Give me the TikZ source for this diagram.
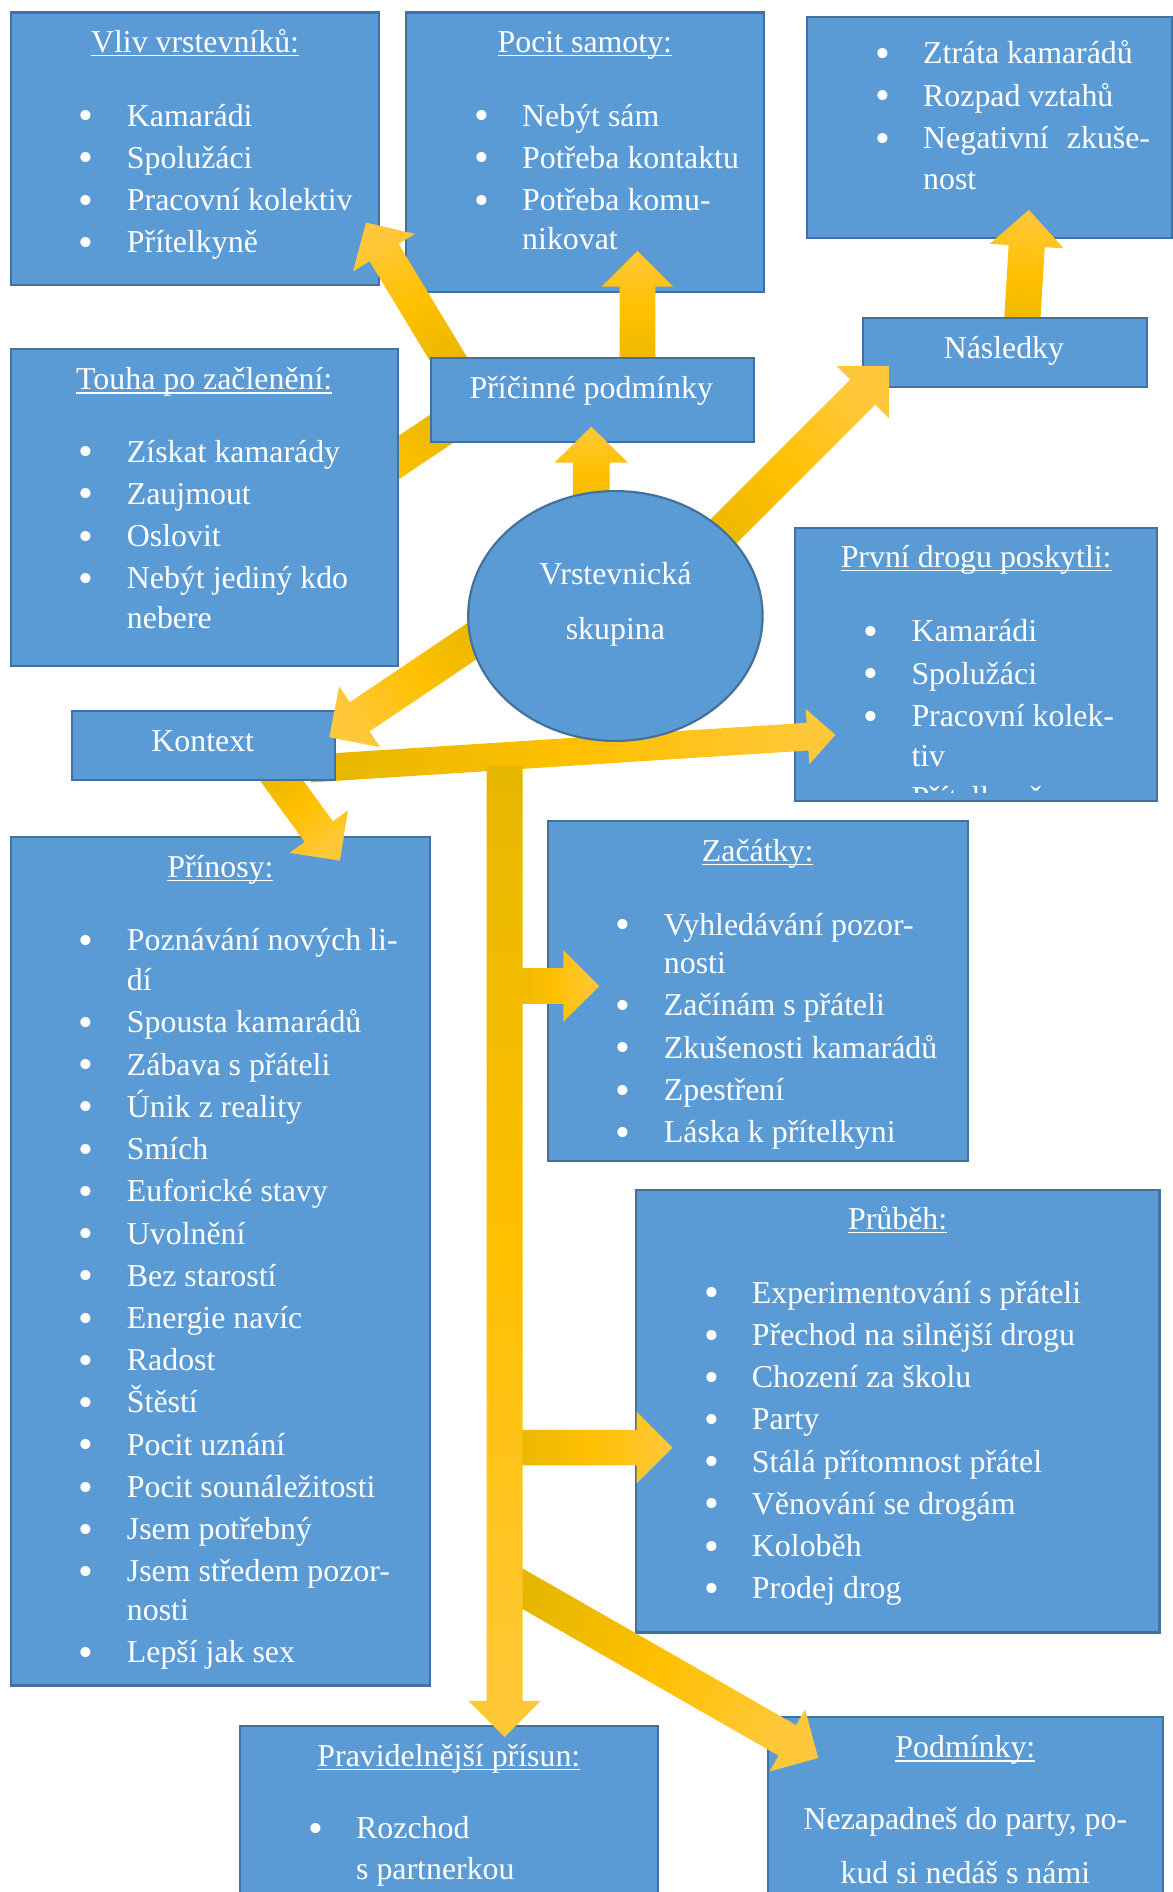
\documentclass[tikz,border=0pt]{standalone}
\usepackage{fontspec}
\setmainfont{Liberation Serif}
\usetikzlibrary{calc,shapes.geometric}

\definecolor{boxblue}{HTML}{5B9BD5}
\definecolor{boxline}{HTML}{41719C}
\definecolor{golddark}{HTML}{E6B700}
\definecolor{goldmid}{HTML}{FFC000}
\definecolor{goldlight}{HTML}{FFC83A}

\tikzset{
  infobox/.style={draw=boxline, fill=boxblue, line width=1.8pt, inner sep=0pt, anchor=north west},
  grpshape/.style={ellipse, draw=boxline, fill=boxblue, line width=1.8pt, minimum width=244, minimum height=207},
  boxtitle/.style={anchor=base, inner sep=0pt},
  boxlist/.style={anchor=base west, inner sep=0pt},
  goldfill/.style={top color=goldlight, bottom color=golddark, middle color=goldmid}
}

% underlined heading, bullet item
\newcommand\uln[1]{\setbox0\hbox{#1}\rlap{\rule[-3.2pt]{\wd0}{1.3pt}}\box0}
\newcommand\itm{\llap{\raisebox{-3pt}{\fontsize{35}{35}\selectfont\textbullet}\hspace{27.5pt}}}

% block arrow: tail, tip, half shaft, half head, head length
\newcommand\fatarrow[5]{%
  \coordinate (fa-neck) at ($(#2)!#5!(#1)$);
  \pgfmathanglebetweenpoints{\pgfpointanchor{#1}{center}}{\pgfpointanchor{#2}{center}}%
  \pgfmathsetmacro\faang{\pgfmathresult-90}%
  \shade[goldfill, shading angle=\faang]
    ($(#1)!#3!90:(#2)$) -- ($(fa-neck)!#3!-90:(#1)$) -- ($(fa-neck)!#4!-90:(#1)$) -- (#2)
    -- ($(fa-neck)!#4!90:(#1)$) -- ($(fa-neck)!#3!90:(#1)$) -- ($(#1)!#3!-90:(#2)$) -- cycle;
}

\begin{document}
\begin{tikzpicture}[x=1pt, y=1pt, font=\fontsize{26.4}{35}\selectfont, text=white]
\useasboundingbox (0,0) rectangle (972,-1568);
\clip (0,0) rectangle (972,-1568);

% outer boxes
\node[infobox, minimum width=305.5, minimum height=226] (vliv) at (8,-9.5) {};
\node[boxtitle] at ([yshift=-34]vliv.north) {\uln{Vliv vrstevníků:}};
\node[boxlist] at ([shift={(97,-95)}]vliv.north west) {\begin{tabular}[t]{@{}l@{}}
  \itm Kamarádi\\ \itm Spolužáci\\ \itm Pracovní kolektiv\\ \itm Přítelkyně
\end{tabular}};

\node[infobox, minimum width=296.4, minimum height=231.6] (pocit) at (335.6,-9.5) {};
\node[boxtitle] at ([yshift=-34]pocit.north) {\uln{Pocit samoty:}};
\node[boxlist] at ([shift={(97,-95)}]pocit.north west) {\begin{tabular}[t]{@{}l@{}}
  \itm Nebýt sám\\ \itm Potřeba kontaktu\\ \itm Potřeba komu-\\[-3pt] nikovat
\end{tabular}};

\node[infobox, minimum width=302.5, minimum height=182.6] (ztrata) at (667.9,-13.5) {};
\node[boxlist] at ([shift={(97,-39.5)}]ztrata.north west) {\begin{tabular}[t]{@{}l@{}}
  \itm Ztráta kamarádů\\ \itm Rozpad vztahů\\ \itm Negativní\hspace{15pt}zkuše-\\[-1pt] nost
\end{tabular}};

\node[infobox, minimum width=299.8, minimum height=226.6] (prvni) at (658.2,-436.4) {};
\node[boxtitle] at ([yshift=-34]prvni.north) {\uln{První drogu poskytli:}};
\begin{scope}
  \clip (prvni.north west) rectangle ([yshift=8]prvni.south east);
  \node[boxlist] at ([shift={(97,-95.6)}]prvni.north west) {\begin{tabular}[t]{@{}l@{}}
    \itm Kamarádi\\ \itm Spolužáci\\ \itm Pracovní kolek-\\[-2pt] tiv\\ \itm Přítelkyně
  \end{tabular}};
\end{scope}

\node[infobox, minimum width=347.5, minimum height=703.5] (prinosy) at (8,-692.5) {};
\node[boxtitle] at ([yshift=-34.5]prinosy.north) {\uln{Přínosy:}};
\node[boxlist] at ([shift={(97,-95.5)}]prinosy.north west) {\begin{tabular}[t]{@{}l@{}}
  \itm Poznávání nových li-\\[-2pt] dí\\ \itm Spousta kamarádů\\ \itm Zábava s přáteli\\
  \itm Únik z reality\\ \itm Smích\\ \itm Euforické stavy\\ \itm Uvolnění\\
  \itm Bez starostí\\ \itm Energie navíc\\ \itm Radost\\ \itm Štěstí\\
  \itm Pocit uznání\\ \itm Pocit sounáležitosti\\ \itm Jsem potřebný\\
  \itm Jsem středem pozor-\\[-3pt] nosti\\ \itm Lepší jak sex
\end{tabular}};

\node[infobox, minimum width=348, minimum height=281.5] (zacatky) at (453,-679.5) {};
\node[boxtitle] at ([yshift=-34.5]zacatky.north) {\uln{Začátky:}};
\node[boxlist] at ([shift={(97,-95.5)}]zacatky.north west) {\begin{tabular}[t]{@{}l@{}}
  \itm Vyhledávání pozor-\\[-3pt] nosti\\ \itm Začínám s přáteli\\ \itm Zkušenosti kamarádů\\
  \itm Zpestření\\ \itm Láska k přítelkyni
\end{tabular}};

\node[infobox, minimum width=434, minimum height=367] (prubeh) at (526,-985) {};
\node[boxtitle] at ([yshift=-34]prubeh.north) {\uln{Průběh:}};
\node[boxlist] at ([shift={(97,-95)}]prubeh.north west) {\begin{tabular}[t]{@{}l@{}}
  \itm Experimentování s přáteli\\ \itm Přechod na silnější drogu\\ \itm Chození za školu\\
  \itm Party\\ \itm Stálá přítomnost přátel\\ \itm Věnování se drogám\\ \itm Koloběh\\
  \itm Prodej drog
\end{tabular}};

\node[infobox, minimum width=346.2, minimum height=180] (pravid) at (198,-1429.4) {};
\node[boxtitle] at ([yshift=-34.5]pravid.north) {\uln{Pravidelnější přísun:}};
\node[boxlist] at ([shift={(97,-94.6)}]pravid.north west) {\begin{tabular}[t]{@{}l@{}}
  \itm Rozchod\\[-1pt] s partnerkou
\end{tabular}};

\node[infobox, minimum width=327.7, minimum height=190] (podm) at (635.3,-1421.9) {};
\node[boxtitle] at ([yshift=-35]podm.north) {\uln{Podmínky:}};
\node[boxtitle] at ([yshift=-94]podm.north) {\begin{tabular}[t]{@{}c@{}}
  Nezapadneš do party, po-\\[10pt] kud si nedáš s námi
\end{tabular}};

% arrows behind the inner boxes
\coordinate (a1s) at (381,-313);     \coordinate (a1e) at (303.3,-184.5);
\coordinate (a2s) at (528.3,-310);   \coordinate (a2e) at (528.3,-208);
\coordinate (a6s) at (378.5,-347);   \coordinate (a6e) at (265,-423);
\coordinate (a5s) at (846,-285);     \coordinate (a5e) at (852.7,-174);
\fatarrow{a1s}{a1e}{14pt}{30pt}{29pt}
\fatarrow{a2s}{a2e}{14.75pt}{29.7pt}{29.5pt}
\fatarrow{a6s}{a6e}{15pt}{30pt}{30pt}
\fatarrow{a5s}{a5e}{15pt}{30.7pt}{30pt}

\node[infobox, minimum width=320.7, minimum height=262.4] (touha) at (8,-288.6) {};
\node[boxtitle] at ([yshift=-34.4]touha.north) {\uln{Touha po začlenění:}};
\node[boxlist] at ([shift={(97,-94.4)}]touha.north west) {\begin{tabular}[t]{@{}l@{}}
  \itm Získat kamarády\\ \itm Zaujmout\\ \itm Oslovit\\ \itm Nebýt jediný kdo\\[-2pt] nebere
\end{tabular}};

\node[infobox, minimum width=267.4, minimum height=69.8] (pric) at (356.3,-295.6) {};
\node[boxtitle] at (490,-330) {Příčinné podmínky};
\node[infobox, minimum width=235.7, minimum height=57.2] (nasl) at (714.3,-262.4) {};
\node[boxtitle] at (832,-297) {Následky};

% from the group
\coordinate (a3s) at (490,-430);     \coordinate (a3e) at (490,-353.6);
\coordinate (a4s) at (566.7,-473.3); \coordinate (a4e) at (736.7,-303.3);
\fatarrow{a3s}{a3e}{15.2pt}{30.5pt}{29.8pt}
\fatarrow{a4s}{a4e}{14.6pt}{30.7pt}{30.7pt}

\coordinate (a8s) at (257,-637);     \coordinate (a8e) at (692.4,-609);
\coordinate (a13s) at (222.8,-632.4); \coordinate (a13e) at (281.7,-713.2);
\fatarrow{a8s}{a8e}{11.5pt}{22.9pt}{23.2pt}
\fatarrow{a13s}{a13e}{14.5pt}{29.9pt}{29.7pt}

\node[infobox, minimum width=218, minimum height=57.5] (kontext) at (59,-588.3) {};
\node[boxtitle] at (168,-623) {Kontext};

\coordinate (a7s) at (413.9,-516);   \coordinate (a7e) at (272.9,-611);
\fatarrow{a7s}{a7e}{14.6pt}{30.3pt}{30.3pt}

% trunk and its branches
\coordinate (a10s) at (420,-817.2);  \coordinate (a10e) at (496.6,-817.2);
\coordinate (a11s) at (420,-1199.7); \coordinate (a11e) at (557.4,-1199.7);
\coordinate (a12s) at (418,-1308);   \coordinate (a12e) at (678.1,-1457);
\coordinate (a9s) at (418.2,-634.5); \coordinate (a9e) at (418.2,-1439.6);
\fatarrow{a10s}{a10e}{14.8pt}{29.7pt}{29.8pt}
\fatarrow{a11s}{a11e}{14.8pt}{29.7pt}{29.8pt}
\fatarrow{a12s}{a12e}{14.6pt}{29.6pt}{29.5pt}
\fatarrow{a9s}{a9e}{14.9pt}{30.1pt}{30.1pt}

% group ellipse
\node[grpshape] (grp) at (510,-510.5) {};
\node[boxtitle] at (510,-484) {\begin{tabular}[t]{@{}c@{}}
  Vrstevnická\\[11pt] skupina
\end{tabular}};
\end{tikzpicture}
\end{document}
